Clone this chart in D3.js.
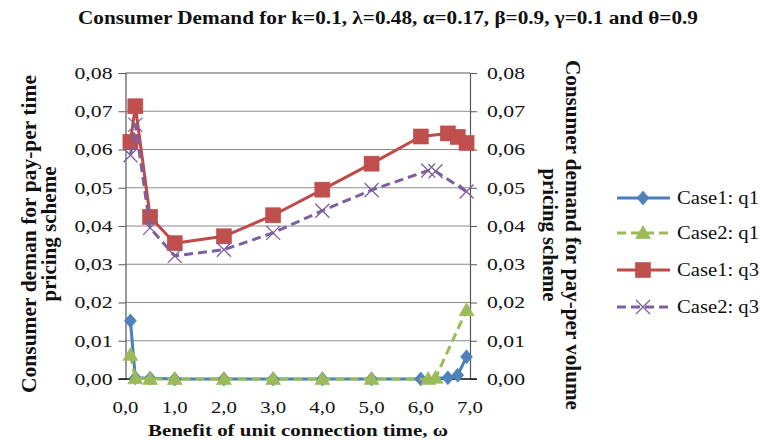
<!DOCTYPE html>
<html>
<head>
<meta charset="utf-8">
<script src="https://cdn.jsdelivr.net/npm/d3@7/dist/d3.min.js"></script>
<style>
  html, body { margin: 0; padding: 0; background: #ffffff; }
  svg { display: block; }
  svg text { font-family: "Liberation Serif", "Times New Roman", serif !important; fill: #111; }
</style>
</head>
<body>
<svg id="chart" width="761" height="443"></svg>
<script>
// Benefit of unit connection time (omega) for each case
const omegaCase1 = [0.1, 0.2, 0.5, 1, 2, 3, 4, 5, 6, 6.55, 6.75, 6.93];
const omegaCase2 = [0.1, 0.2, 0.5, 1, 2, 3, 4, 5, 6.15, 6.3, 6.93];

// Consumer demand series
const case1Q1 = [0.0152, 0.0003, 0.0002, 0, 0, 0, 0, 0, 0, 0.0003, 0.001, 0.0058];
const case2Q1 = [0.0063, 0.0002, 0, 0, 0, 0, 0, 0, 0, 0.0003, 0.018];
const case1Q3 = [0.062, 0.0713, 0.0424, 0.0355, 0.0373, 0.0428, 0.0495, 0.0563, 0.0634, 0.0642, 0.0633, 0.0617];
const case2Q3 = [0.0585, 0.0665, 0.0395, 0.0322, 0.0338, 0.0382, 0.0440, 0.0494, 0.0545, 0.0543, 0.0490];

const xTicks = [0, 1, 2, 3, 4, 5, 6, 7];
const yTicks = [0, 0.01, 0.02, 0.03, 0.04, 0.05, 0.06, 0.07, 0.08];

const seriesNames = ["Case1: q1", "Case2: q1", "Case1: q3", "Case2: q3"];

const titleText = "Consumer Demand  for k=0.1, \u03bb=0.48, \u03b1=0.17, \u03b2=0.9, \u03b3=0.1 and \u03b8=0.9";
const xTitle = "Benefit of unit connection time, \u03c9";
const yLeftTitle = ["Consumer deman for pay-per time", "pricing scheme"];
const yRightTitle = ["Consumer demand  for pay-per volume", "pricing scheme"];

const series = [
  { name: seriesNames[0], xs: omegaCase1, ys: case1Q1, color: "#4A7EBB", fill: "#4F81BD", dash: null, marker: "diamond" },
  { name: seriesNames[1], xs: omegaCase2, ys: case2Q1, color: "#9BBB59", fill: "#9BBB59", dash: "9,5", marker: "triangle" },
  { name: seriesNames[2], xs: omegaCase1, ys: case1Q3, color: "#BE4B48", fill: "#C0504D", dash: null, marker: "square" },
  { name: seriesNames[3], xs: omegaCase2, ys: case2Q3, color: "#7D60A0", fill: "#8064A2", dash: "9,5", marker: "cross" }
];

const SERIF = "'Liberation Serif', 'Times New Roman', serif";

const svg = d3.select("#chart");
const plot = { left: 125.5, right: 470, top: 73, bottom: 379 };

const x = d3.scaleLinear().domain([0, 7]).range([plot.left, plot.right]);
const y = d3.scaleLinear().domain([0, 0.08]).range([plot.bottom, plot.top]);

const fmtY = v => d3.format(".2f")(v).replace(".", ",");
const fmtX = v => d3.format(".1f")(v).replace(".", ",");

// Horizontal gridlines
svg.append("g")
  .selectAll("line")
  .data(yTicks.filter(t => t > 0 && t < 0.08))
  .join("line")
  .attr("x1", plot.left).attr("x2", plot.right)
  .attr("y1", d => y(d)).attr("y2", d => y(d))
  .attr("stroke", "#8c8c8c").attr("stroke-width", 1);

// Top border
svg.append("line")
  .attr("x1", plot.left).attr("x2", plot.right)
  .attr("y1", y(0.08)).attr("y2", y(0.08))
  .attr("stroke", "#595959").attr("stroke-width", 1);

// Left and right value axes
const leftAxis = d3.axisLeft(y).tickValues(yTicks).tickFormat(fmtY).tickSize(7).tickPadding(6);
const rightAxis = d3.axisRight(y).tickValues(yTicks).tickFormat(fmtY).tickSize(7).tickPadding(10);

function styleAxis(g) {
  g.attr("font-family", null);
  g.select(".domain").attr("stroke", "#595959").attr("stroke-width", 1.2);
  g.selectAll(".tick line").attr("stroke", "#595959").attr("stroke-width", 1);
  g.selectAll(".tick text")
    .style("font-family", SERIF)
    .attr("font-size", 17)
    .attr("fill", "#222")
    .attr("textLength", 38)
    .attr("lengthAdjust", "spacingAndGlyphs");
}

svg.append("g").attr("transform", `translate(${plot.left},0)`).call(leftAxis).call(styleAxis);
svg.append("g").attr("transform", `translate(${plot.right},0)`).call(rightAxis).call(styleAxis);

// Zero line (category axis)
svg.append("line")
  .attr("x1", plot.left - 7).attr("x2", plot.right + 7)
  .attr("y1", y(0)).attr("y2", y(0))
  .attr("stroke", "#111").attr("stroke-width", 1.4);

// X tick labels
svg.append("g")
  .selectAll("text")
  .data(xTicks)
  .join("text")
  .style("font-family", SERIF)
  .attr("x", d => x(d))
  .attr("y", 413)
  .attr("text-anchor", "middle")
  .attr("font-size", 16)
  .attr("fill", "#222")
  .attr("textLength", 26)
  .attr("lengthAdjust", "spacingAndGlyphs")
  .text(fmtX);

// Marker drawing
function drawMarker(g, type, fill, stroke) {
  if (type === "diamond") {
    g.append("path").attr("d", "M0,-7L6,0L0,7L-6,0Z").attr("fill", fill).attr("stroke", stroke).attr("stroke-width", 0.6);
  } else if (type === "triangle") {
    g.append("path").attr("d", "M0,-7.5L7.5,5.5L-7.5,5.5Z").attr("fill", fill).attr("stroke", stroke).attr("stroke-width", 0.6);
  } else if (type === "square") {
    g.append("rect").attr("x", -7.5).attr("y", -7.5).attr("width", 15).attr("height", 15).attr("fill", fill).attr("stroke", stroke).attr("stroke-width", 0.6);
  } else if (type === "cross") {
    g.append("path").attr("d", "M-7,-7L7,7M-7,7L7,-7").attr("fill", "none").attr("stroke", stroke).attr("stroke-width", 1.3);
  }
}

const line = d3.line().x(d => x(d[0])).y(d => y(d[1]));

// Series lines and markers
series.forEach(s => {
  const pts = s.xs.map((v, i) => [v, s.ys[i]]);
  svg.append("path")
    .datum(pts)
    .attr("d", line)
    .attr("fill", "none")
    .attr("stroke", s.color)
    .attr("stroke-width", 3)
    .attr("stroke-dasharray", s.dash)
    .attr("stroke-linejoin", "round");
  svg.append("g")
    .selectAll("g")
    .data(pts)
    .join("g")
    .attr("transform", d => `translate(${x(d[0])},${y(d[1])})`)
    .each(function () { drawMarker(d3.select(this), s.marker, s.fill, s.color); });
});

// Chart title
svg.append("text")
  .style("font-family", SERIF)
  .attr("x", 78).attr("y", 24)
  .attr("font-size", 18).attr("font-weight", "bold")
  .attr("textLength", 620).attr("lengthAdjust", "spacingAndGlyphs")
  .text(titleText);

// X axis title
svg.append("text")
  .style("font-family", SERIF)
  .attr("x", 298).attr("y", 436)
  .attr("text-anchor", "middle")
  .attr("font-size", 17).attr("font-weight", "bold")
  .attr("textLength", 300).attr("lengthAdjust", "spacingAndGlyphs")
  .text(xTitle);

// Left axis title
const leftT = svg.append("g");
[[29, yLeftTitle[0], 318], [49, yLeftTitle[1], 135]].forEach(([cx, t, len]) => {
  leftT.append("text")
    .style("font-family", SERIF)
    .attr("transform", `translate(${cx},234) rotate(-90)`)
    .attr("text-anchor", "middle")
    .attr("dominant-baseline", "central")
    .attr("font-size", 20).attr("font-weight", "bold")
    .attr("textLength", len).attr("lengthAdjust", "spacingAndGlyphs")
    .text(t);
});

// Right axis title
const rightT = svg.append("g");
[[573, yRightTitle[0], 350], [550, yRightTitle[1], 133]].forEach(([cx, t, len]) => {
  rightT.append("text")
    .style("font-family", SERIF)
    .attr("transform", `translate(${cx},235) rotate(90)`)
    .attr("text-anchor", "middle")
    .attr("dominant-baseline", "central")
    .attr("font-size", 20).attr("font-weight", "bold")
    .attr("textLength", len).attr("lengthAdjust", "spacingAndGlyphs")
    .text(t);
});

// Legend
const legend = svg.append("g");
const legendY = [198, 233, 270, 307];
series.forEach((s, i) => {
  const g = legend.append("g").attr("transform", `translate(0,${legendY[i]})`);
  g.append("line")
    .attr("x1", 617).attr("x2", 670).attr("y1", 0).attr("y2", 0)
    .attr("stroke", s.color).attr("stroke-width", 3)
    .attr("stroke-dasharray", s.dash);
  const m = g.append("g").attr("transform", "translate(643,0)");
  drawMarker(m, s.marker, s.fill, s.color);
  g.append("text")
    .style("font-family", SERIF)
    .attr("x", 677).attr("y", 0)
    .attr("dominant-baseline", "central")
    .attr("font-size", 18)
    .attr("fill", "#222")
    .attr("textLength", 82).attr("lengthAdjust", "spacingAndGlyphs")
    .text(s.name);
});
</script>
</body>
</html>
